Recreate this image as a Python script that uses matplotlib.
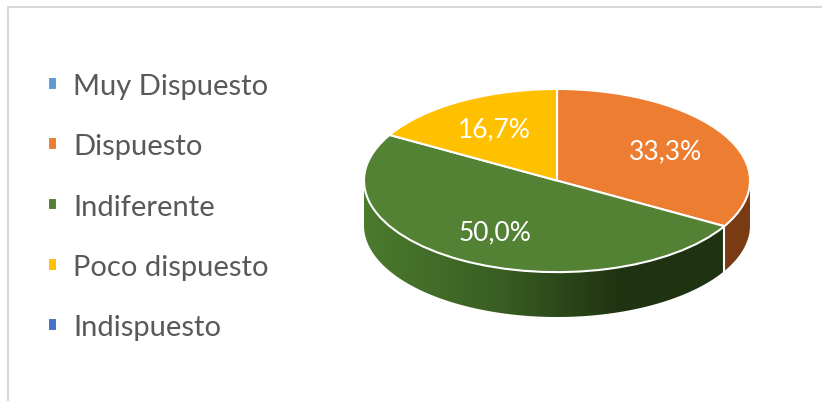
import numpy as np
import matplotlib
matplotlib.use('Agg')
import matplotlib.pyplot as plt
from matplotlib.colors import LinearSegmentedColormap
from matplotlib.patches import Rectangle, Polygon

# datos de la encuesta
labels = ['Muy Dispuesto', 'Dispuesto', 'Indiferente', 'Poco dispuesto', 'Indispuesto']
values = [0.0, 33.3, 50.0, 16.7, 0.0]
colors = ['#5b9bd5', '#ed7d31', '#548235', '#ffc000', '#4472c4']
side_colors = ['#2f5f8a', '#7a3b12', None, '#8a6a00', '#24406e']

plt.rcParams['font.family'] = ['Lato', 'DejaVu Sans']

W, H = 822, 402
fig = plt.figure(figsize=(W / 100, H / 100), dpi=100)

# marco gris
fig.patches.append(Rectangle((8 / W, -0.1), 1.2, (H - 8) / H + 0.1, transform=fig.transFigure,
                             fill=False, edgecolor='#d9d9d9', linewidth=1.5))

depth = 0.49
ax = fig.add_axes([364 / W, 84 / H, 386 / W, 228 / H])

vals = np.array(values)
ang_end = 90 - np.cumsum(vals) / vals.sum() * 360
ang_start = np.concatenate([[90], ang_end[:-1]])


def owner(deg):
    for k in range(len(vals)):
        if vals[k] == 0:
            continue
        a0, a1 = ang_end[k] % 360, ang_start[k] % 360
        if a1 == 0:
            a1 = 360
        if (a0 < a1 and a0 <= deg < a1) or (a0 >= a1 and (deg >= a0 or deg < a1)):
            return k
    return None


# lados del pastel (mitad frontal), agrupados por porcion
t = np.linspace(180, 360, 721)
own = [owner(v) for v in (t[:-1] + t[1:]) / 2]
green_cmap = LinearSegmentedColormap.from_list('g', ['#4b7a2d', '#3a6024', '#1f3311', '#1f3311'])
start = 0
for i in range(1, len(own) + 1):
    if i == len(own) or own[i] != own[start]:
        tt = np.radians(t[start:i + 1])
        xs, ys = np.cos(tt), np.sin(tt)
        poly = np.column_stack([np.concatenate([xs, xs[::-1]]),
                                np.concatenate([ys, ys[::-1] - depth])])
        k = own[start]
        if k == 2:
            patch = Polygon(poly, closed=True, facecolor='none', edgecolor='none')
            ax.add_patch(patch)
            grad = np.linspace(0, 1, 256).reshape(1, -1)
            im = ax.imshow(grad, cmap=green_cmap, extent=(-1, 1, -1 - depth, 0),
                           aspect='auto', zorder=1)
            im.set_clip_path(patch)
        else:
            ax.add_patch(Polygon(poly, closed=True, facecolor=side_colors[k],
                                 edgecolor='none', zorder=1))
        if i < len(own):
            a = np.radians(t[i])
            ax.plot([np.cos(a)] * 2, [np.sin(a), np.sin(a) - depth], color='white',
                    lw=1.5, zorder=1.5)
        start = i

wedges, texts, autotexts = ax.pie(
    values, colors=colors, startangle=90, counterclock=False,
    autopct=lambda p: f'{p:.1f}%'.replace('.', ',') if p > 0 else '',
    pctdistance=0.65, wedgeprops=dict(edgecolor='white', linewidth=1.5),
    textprops=dict(color='white', fontsize=19))
for w in wedges:
    w.set_zorder(2)
for tx in autotexts:
    tx.set_zorder(3)

ax.set_aspect('auto')
ax.set_xlim(-1, 1)
ax.set_ylim(-1 - depth, 1)
ax.axis('off')

fig.legend(wedges, labels, loc='upper left', bbox_to_anchor=(22 / W, 1 - 48 / H),
           frameon=False, fontsize=21, labelcolor='#595959',
           handlelength=0.3, handleheight=0.3, handletextpad=0.55, labelspacing=1.17)

fig.savefig('out.png', dpi=100)
